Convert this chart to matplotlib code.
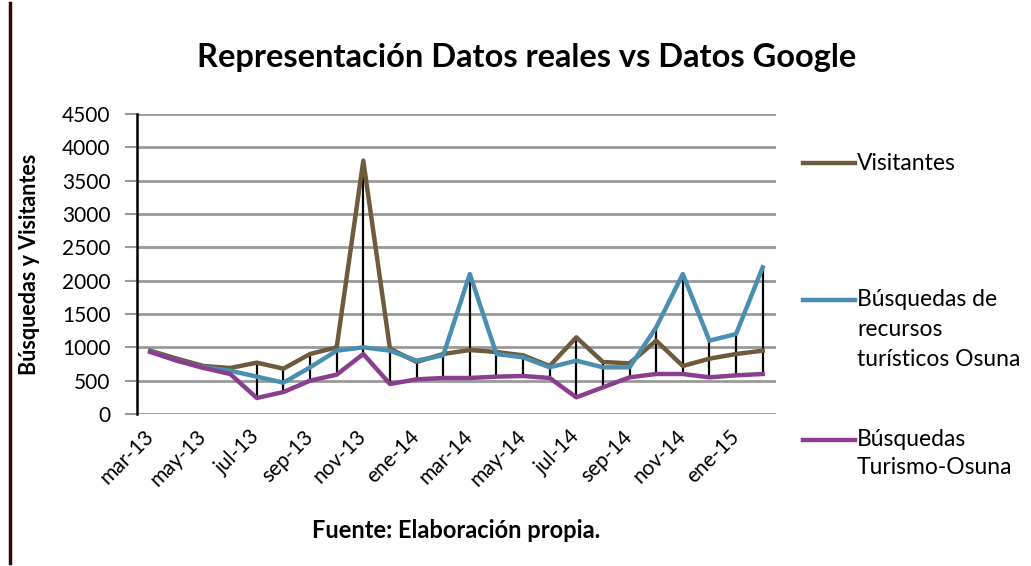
import matplotlib
matplotlib.use("Agg")
import matplotlib.pyplot as plt
from matplotlib.lines import Line2D
import numpy as np

plt.rcParams['font.family'] = ['Lato', 'DejaVu Sans']

months = ['mar-13', 'abr-13', 'may-13', 'jun-13', 'jul-13', 'ago-13', 'sep-13', 'oct-13',
          'nov-13', 'dic-13', 'ene-14', 'feb-14', 'mar-14', 'abr-14', 'may-14', 'jun-14',
          'jul-14', 'ago-14', 'sep-14', 'oct-14', 'nov-14', 'dic-14', 'ene-15', 'feb-15']

visitantes = [950, 830, 720, 690, 770, 680, 900, 1000, 3800, 980, 780, 900,
              960, 930, 880, 720, 1150, 780, 760, 1100, 720, 830, 900, 950]
busq_recursos = [940, 800, 700, 650, 560, 470, 700, 950, 1000, 950, 800, 880,
                 2100, 900, 850, 700, 800, 700, 700, 1300, 2100, 1100, 1200, 2200]
busq_turismo = [930, 800, 690, 600, 240, 330, 500, 590, 900, 450, 520, 540,
                540, 560, 570, 540, 250, 400, 550, 600, 600, 550, 580, 600]

series_names = ['Visitantes', 'Búsquedas de\nrecursos\nturísticos Osuna', 'Búsquedas\nTurismo-Osuna']
colors = ['#6E5A3C', '#4A8FB0', '#8A3E8E']

fig = plt.figure(figsize=(10.31, 5.66), dpi=100)
ax = fig.add_axes([137/1031, 1-414/566, (776-137)/1031, 300/566])

x = np.arange(len(months))
data = [visitantes, busq_recursos, busq_turismo]
arr = np.array(data)
ax.vlines(x, arr.min(axis=0), arr.max(axis=0), colors='black', lw=1.6, zorder=2)
for vals, c in zip(data, colors):
    ax.plot(x, vals, color=c, lw=3.2, zorder=3, solid_joinstyle='round')

ax.set_xlim(-0.5, len(months) - 0.5)
ax.set_ylim(0, 4500)
ax.set_yticks(np.arange(0, 4501, 500))
ax.set_xticks(x[::2])
ax.set_xticklabels(months[::2], rotation=45, ha='right', va='center',
                   rotation_mode='anchor', fontsize=15)
ax.tick_params(axis='x', length=0, pad=14)
ax.tick_params(axis='y', length=9, width=1.5, color='#999999', labelsize=15, pad=10)

ax.grid(axis='y', color='#999999', lw=2)
ax.set_axisbelow(True)
for s in ['top', 'right', 'bottom']:
    ax.spines[s].set_visible(False)
ax.spines['left'].set_color('black')
ax.spines['left'].set_linewidth(1.8)
ax.spines['left'].set_zorder(4)

ax.set_ylabel('Búsquedas y Visitantes', fontsize=15.5, fontweight='bold')
ax.yaxis.set_label_coords((40-137)/639, 0.5)
ax.set_xlabel('Fuente: Elaboración propia.', fontsize=17, fontweight='bold')
ax.xaxis.set_label_coords(0.5, (414-530)/300)
ax.xaxis.label.set_va('center')

fig.text(527/1031, 1-57/566, 'Representación Datos reales vs Datos Google',
         ha='center', va='center', fontsize=23.5, fontweight='bold')

# legend
leg_y = [[163], [300, 330, 360], [440, 468]]
for name, c, ys in zip(series_names, colors, leg_y):
    fig.add_artist(Line2D([803/1031, 855/1031], [1-ys[0]/566]*2, color=c, lw=3.2))
    for line, yy in zip(name.split('\n'), ys):
        fig.text(857/1031, 1-yy/566, line, ha='left', va='center', fontsize=16.5)

fig.add_artist(Line2D([10/1031, 10/1031], [0.005, 0.995], color='#300808', lw=2.5))

fig.savefig('out.png', dpi=100)
